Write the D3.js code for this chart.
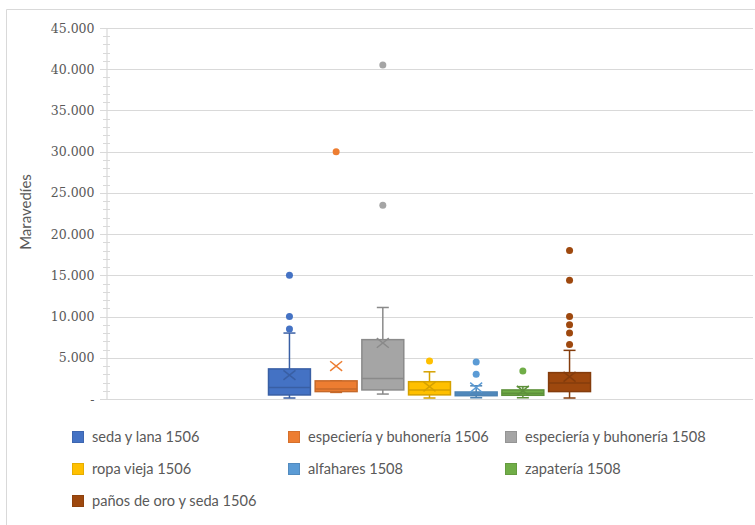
<!DOCTYPE html>
<html>
<head>
<meta charset="utf-8">
<script src="https://cdn.jsdelivr.net/npm/d3@7"></script>
<style>
  html, body { margin: 0; padding: 0; background: #fff; }
  svg { display: block; font-family: "Lato", "Liberation Sans", sans-serif; }
</style>
</head>
<body>
<svg id="chart" width="755" height="525"></svg>
<script>
// ---- data ----
const series = ["seda y lana 1506", "especiería y buhonería 1506", "especiería y buhonería 1508",
  "ropa vieja 1506", "alfahares 1508", "zapatería 1508", "paños de oro y seda 1506"];
const colors = ["#4472C4", "#ED7D31", "#A5A5A5", "#FFC000", "#5B9BD5", "#70AD47", "#9E480E"];
const whiskerLow  = [120, 800, 600, 120, 150, 150, 120];
const q1          = [490, 900, 1100, 500, 400, 450, 900];
const median      = [1400, 1200, 2500, 1100, 600, 700, 1950];
const q3          = [3650, 2200, 7200, 2100, 850, 1100, 3200];
const whiskerHigh = [8000, 2200, 11100, 3300, 1600, 1500, 5900];
const mean        = [2900, 4000, 6800, 1500, 1400, 1000, 2700];
const outliers    = [[8500, 10000, 15000], [30000], [23500, 40500], [4600], [3000, 4500], [3400],
  [6600, 8000, 9000, 10000, 14400, 18000]];
const yTicks = [0, 5000, 10000, 15000, 20000, 25000, 30000, 35000, 40000, 45000];
const categories = [""];
const yTitle = "Maravedíes";

// ---- layout ----
const svg = d3.select("#chart");
const plot = { left: 106, right: 753, top: 28, bottom: 399 };
const y = d3.scaleLinear().domain([0, 45000]).range([plot.bottom, plot.top]);
const xCat = d3.scaleBand().domain(categories).range([plot.left, plot.right]).paddingInner(0).paddingOuter(0.5);
const xSer = d3.scaleBand().domain(series).range([xCat(""), xCat("") + xCat.bandwidth()]).paddingInner(0.07).paddingOuter(0);

const loc = d3.formatLocale({ decimal: ",", thousands: ".", grouping: [3], currency: ["", ""] });
const fmt = v => v === 0 ? "-" : loc.format(",.0f")(v);

// frame
svg.append("path").attr("d", "M6.5,525V9.5H755").attr("fill", "none").attr("stroke", "#d9d9d9").attr("stroke-width", 1);

// gridlines
svg.append("g").selectAll("line").data(yTicks).join("line")
  .attr("x1", plot.left - 6).attr("x2", plot.right)
  .attr("y1", d => Math.round(y(d)) + 0.5).attr("y2", d => Math.round(y(d)) + 0.5)
  .attr("stroke", "#d9d9d9").attr("stroke-width", 1.2);

// y axis
const yAxis = d3.axisLeft(y).tickValues(yTicks).tickFormat(fmt).tickSize(0).tickPadding(12);
const gAx = svg.append("g").attr("transform", `translate(${plot.left + 0.5},0)`).call(yAxis);
gAx.select(".domain").attr("stroke", "#d9d9d9").attr("stroke-width", 1.2);
gAx.selectAll("text").attr("fill", "#595959").style("font-family", "'DejaVu Serif', serif").style("font-size", "12.5px");
// minor ticks
const minor = d3.range(1000, 45000, 1000).filter(v => v % 5000 !== 0);
svg.append("g").selectAll("line").data(minor).join("line")
  .attr("x1", plot.left - 3).attr("x2", plot.left + 4)
  .attr("y1", d => Math.round(y(d)) + 0.5).attr("y2", d => Math.round(y(d)) + 0.5)
  .attr("stroke", "#d9d9d9").attr("stroke-width", 1);

// y title
svg.append("text").attr("transform", `translate(31,212) rotate(-90)`).attr("text-anchor", "middle")
  .attr("fill", "#595959").style("font-size", "15px").text(yTitle);

// boxes
const gBoxes = svg.append("g");
series.forEach((s, i) => {
  const c = colors[i];
  const dk = d3.color(c).darker(0.5).formatHex();
  const x0 = xSer(s), w = xSer.bandwidth(), cx = x0 + w / 2;
  const g = gBoxes.append("g");
  // whiskers
  g.append("line").attr("x1", cx).attr("x2", cx).attr("y1", y(q3[i])).attr("y2", y(whiskerHigh[i])).attr("stroke", dk).attr("stroke-width", 1.5);
  g.append("line").attr("x1", cx).attr("x2", cx).attr("y1", y(q1[i])).attr("y2", y(whiskerLow[i])).attr("stroke", dk).attr("stroke-width", 1.5);
  [whiskerHigh[i], whiskerLow[i]].forEach(v => {
    g.append("line").attr("x1", cx - 6).attr("x2", cx + 6).attr("y1", y(v)).attr("y2", y(v)).attr("stroke", dk).attr("stroke-width", 1.5);
  });
  // box
  g.append("rect").attr("x", x0 + 0.75).attr("width", w - 1.5)
    .attr("y", y(q3[i])).attr("height", y(q1[i]) - y(q3[i]))
    .attr("fill", c).attr("stroke", dk).attr("stroke-width", 1.5);
  // median
  g.append("line").attr("x1", x0 + 0.75).attr("x2", x0 + w - 0.75).attr("y1", y(median[i])).attr("y2", y(median[i]))
    .attr("stroke", dk).attr("stroke-width", 1.5);
  // mean X
  const my = y(mean[i]), r = 6;
  g.append("path").attr("d", `M${cx - r},${my - r * 0.8}L${cx + r},${my + r * 0.8}M${cx - r},${my + r * 0.8}L${cx + r},${my - r * 0.8}`)
    .attr("stroke", mean[i] > q3[i] ? c : dk).attr("stroke-width", 1.5).attr("fill", "none");
  // outliers
  g.selectAll("circle").data(outliers[i]).join("circle")
    .attr("cx", cx).attr("cy", d => y(d)).attr("r", 3.5).attr("fill", c);
});

// legend
const legX = [72, 288, 505], legY = [437, 469, 501];
const gl = svg.append("g");
series.forEach((s, i) => {
  const col = i % 3, row = Math.floor(i / 3);
  const g = gl.append("g").attr("transform", `translate(${legX[col]},${legY[row]})`);
  g.append("rect").attr("x", 0.5).attr("y", -5.5).attr("width", 11).attr("height", 11)
    .attr("fill", colors[i]).attr("stroke", d3.color(colors[i]).darker(0.3).formatHex()).attr("stroke-width", 1);
  g.append("text").attr("x", 20).attr("y", 0).attr("dy", "0.35em").attr("fill", "#595959")
    .style("font-size", "14.6px").text(s);
});
</script>
</body>
</html>
